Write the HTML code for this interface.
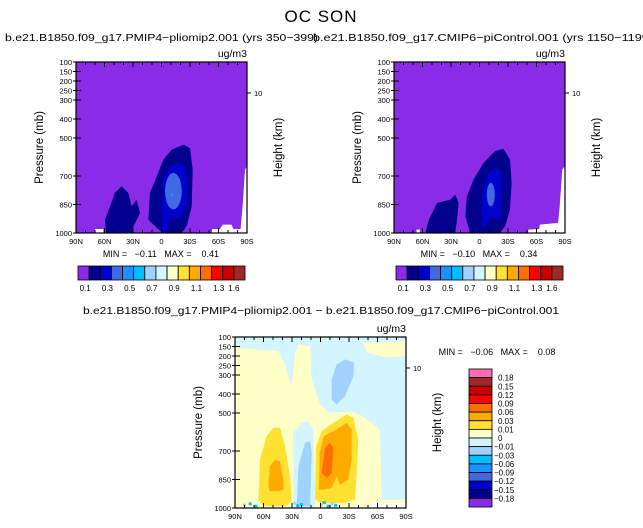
<!DOCTYPE html>
<html><head><meta charset="utf-8"><style>
html,body{margin:0;padding:0;background:#fff;}
svg{display:block;font-family:"Liberation Sans",sans-serif;}
.pre{white-space:pre;}
</style></head><body>
<svg id="chart" width="643" height="528" viewBox="0 0 643 528" xmlns="http://www.w3.org/2000/svg">
<text x="321" y="22" text-anchor="middle" font-size="17" letter-spacing="1">OC SON</text>
<text x="5" y="41" font-size="10.5" textLength="313" lengthAdjust="spacingAndGlyphs">b.e21.B1850.f09_g17.PMIP4−pliomip2.001 (yrs 350−399)</text>
<text x="313" y="41" font-size="10.5" textLength="340" lengthAdjust="spacingAndGlyphs">b.e21.B1850.f09_g17.CMIP6−piControl.001 (yrs 1150−1199)</text>
<text x="321" y="314" text-anchor="middle" font-size="10.5" textLength="476" lengthAdjust="spacingAndGlyphs">b.e21.B1850.f09_g17.PMIP4−pliomip2.001 − b.e21.B1850.f09_g17.CMIP6−piControl.001</text>
<g id="layer"></g>
</svg>
<script>
// ---- data ----
const latTicks=[90,60,30,0,-30,-60,-90];
const latTickLabels=["90N","60N","30N","0","30S","60S","90S"];
const presTicks=[100,150,200,250,300,400,500,700,850,1000];
const heightTickP=[263];
const heightTickLabels=["10"];
const absLevels=["0.1","0.3","0.5","0.7","0.9","1.1","1.3","1.6"];
const absColors=["#8a2be8","#00008c","#0000cd","#4169e1","#1e90ff","#00bfff","#a0d2ff","#d2f5ff","#ffffc8","#ffe132","#ffaa00","#ff6e00","#ff0000","#c80000","#a02828","#ff6eb4"];
const diffLabels=["0.18","0.15","0.12","0.09","0.06","0.03","0.01","0","−0.01","−0.03","−0.06","−0.09","−0.12","−0.15","−0.18"];
const diffColors=["#ff6eb4","#a02828","#c80000","#ff0000","#ff6e00","#ffaa00","#ffe132","#ffffc8","#d2f5ff","#a0d2ff","#00bfff","#1e90ff","#4169e1","#0000cd","#00008c","#8a2be8"];
const leftStats=["−0.11","0.41"];
const rightStats=["−0.10","0.34"];
const diffStats=["−0.06","0.08"];
// contour polygons [lat, pressure]
const tlNavyMain=[[-0.9,1000],[13.9,930],[12.1,789],[5.1,702],[-1.9,614],[-10.7,561],[-23,535],[-30,553],[-32.8,667],[-31.8,860],[-26.5,965],[-21.2,1000]];
const tlNavyLeft=[[58.4,1000],[59.5,930],[54.2,860],[49,789],[42,754],[34.9,789],[31.4,860],[26.1,825],[22.6,895],[29.6,965],[29.6,1000]];
const tlBlue=[[-1.2,1000],[-0.2,860],[-1.9,719],[-8.9,649],[-17.7,628],[-24.7,649],[-28.2,754],[-26.5,860],[-19.5,921],[-10.7,912],[-5.4,1000]];
const tlRoyal=[[-12.5,780,8.8,96]];
const tlDodger=[[-10.7,798,1.2,10]];
const tlWhite=[[-90,649],[-87.9,667],[-85.4,860],[-83.3,979],[-75.6,979],[-73.8,956],[-64.4,956],[-61.6,979],[-53.2,979],[-53.2,1000],[-90,1000]];
const tlWhite2=[[70,979],[61.2,979],[61.2,1000],[70,1000]];
const trNavyMain=[[9.8,1000],[15,912],[13.3,807],[6.3,719],[-4.2,631],[-16.4,569],[-25.1,557],[-32.1,613],[-33.8,736],[-32.1,877],[-26.9,965],[-21.6,1000]];
const trNavyLeft=[[56.9,1000],[53.4,930],[44.7,842],[37.7,833],[30.7,824],[25.5,798],[22,842],[23.7,930],[25.5,1000]];
const trBlue=[[-2.4,965],[-2.4,807],[-7.7,701],[-16.4,657],[-23.4,675],[-23.4,824],[-21.6,930],[-12.9,912],[-5.9,965]];
const trRoyal=[[-11.9,798,4.2,62]];
const trWhite=[[-90,648],[-87.2,666],[-84.4,859],[-82.7,947],[-63.5,956],[-62.8,979],[-51.3,982],[-51.3,1000],[-90,1000]];
const trWhite2=[[66.3,982],[62.8,982],[62.8,1000],[66.3,1000]];
const dLightBlue=[[90,100],[-90,100],[-90,121],[-45.1,130],[-48.6,183],[-69.7,209],[-90,200],[-90,956],[-64.4,956],[-62.6,587],[-52.1,543],[-34.6,490],[-10,499],[0.5,455],[9.3,323],[11,147],[23.3,139],[26.8,183],[30.3,358],[37.4,244],[44.4,174],[90,156]];
const dStrip=[[28.6,1000],[28.6,605],[19.8,552],[12.8,543],[7.5,587],[5.8,956],[5.8,1000]];
const dStripSky=[[25.1,991],[23.3,780],[16.3,657],[11,648],[9.3,710],[11,991]];
const dUpperSky=[[-11.8,429],[-11.8,323],[-17,244],[-25.8,218],[-35.3,235],[-34.6,306],[-25.8,411],[-17,455]];
const dLeftGold=[[65.4,956],[63.7,745],[56.7,622],[49.6,578],[42.6,578],[37.4,675],[32.1,833],[30.3,956],[35.6,991],[60.2,991]];
const dLeftOrange=[[54.9,886],[53.2,780],[47.9,745],[42.6,754],[39.1,851],[39.1,903],[44.4,912],[53.2,912]];
const dRightGold=[[5.8,956],[4.7,675],[-1.2,596],[-13.5,552],[-27.5,508],[-34.6,525],[-39.8,640],[-38.1,816],[-36.3,956],[-24,974],[-0.5,974]];
const dRightOrange=[[1.7,903],[0.8,710],[-3.4,622],[-17,587],[-27.5,552],[-32.8,587],[-32.8,745],[-29.3,851],[-20.5,877],[-17,833],[-11.8,895],[-3.4,903]];
const dDarkOrange=[[-1.2,816],[-4.7,684],[-10,657],[-13.5,684],[-11.8,816],[-6.5,842]];
const dWhite=[[-52,975],[-90,975],[-90,1000],[-52,1000]];
const dSpeckLat=[80,74,68,27,24,20,-1,-4,-8,-12,-16];
const dSpeckP=[985,978,990,975,988,982,985,972,990,978,986];

// ---- rendering ----
const NS="http://www.w3.org/2000/svg";
const layer=document.getElementById('layer');
function mk(tag,attrs,parent){const e=document.createElementNS(NS,tag);for(const k in attrs)e.setAttribute(k,attrs[k]);(parent||layer).appendChild(e);return e;}
function panel(x0,y0,w,h){return {x:lat=>x0+(90-lat)/180*w,y:p=>y0+(p-100)/900*h,x0,y0,w,h};}
function poly(P,pts,fill,name){
  const e=mk('polygon',{points:pts.map(q=>P.x(q[0]).toFixed(1)+','+P.y(q[1]).toFixed(1)).join(' '),fill:fill,'stroke-linejoin':'round'});
  
  
}
function ell(P,arr,fill,name){arr.forEach(a=>{
  const e=mk('ellipse',{cx:P.x(a[0]),cy:P.y(a[1]),rx:a[2]/180*P.w,ry:a[3]/900*P.h,fill:fill});
  
  
});}
function axes(P,key){
  const b=mk('rect',{x:P.x0,y:P.y0,width:P.w,height:P.h,fill:'none',stroke:'#000','stroke-width':1.2});
  
  
  for(let lat=90;lat>=-90;lat-=10){
    const maj=lat%30===0, L=maj?5:3;
    mk('line',{x1:P.x(lat),x2:P.x(lat),y1:P.y0+P.h,y2:P.y0+P.h-L,stroke:'#000','stroke-width':1});
    mk('line',{x1:P.x(lat),x2:P.x(lat),y1:P.y0,y2:P.y0+L,stroke:'#000','stroke-width':1});
  }
  latTicks.forEach((lat,i)=>{
    const t=mk('text',{x:P.x(lat),y:P.y0+P.h+11,'text-anchor':'middle','font-size':7.5});
    t.textContent=latTickLabels[i];
    
    
  });
  presTicks.forEach(p=>{
    mk('line',{x1:P.x0,x2:P.x0+5,y1:P.y(p),y2:P.y(p),stroke:'#000','stroke-width':1});
    mk('line',{x1:P.x0-3,x2:P.x0,y1:P.y(p),y2:P.y(p),stroke:'#000','stroke-width':1});
    const t=mk('text',{x:P.x0-4,y:P.y(p)+2.8,'text-anchor':'end','font-size':7.5});
    t.textContent=p;
    
    
  });
  heightTickP.forEach((p,i)=>{
    mk('line',{x1:P.x0+P.w,x2:P.x0+P.w+4,y1:P.y(p),y2:P.y(p),stroke:'#000','stroke-width':1});
    const t=mk('text',{x:P.x0+P.w+7,y:P.y(p)+2.8,'font-size':7.5});
    t.textContent=heightTickLabels[i];
    
    
  });
  const yt=mk('text',{x:0,y:0,'font-size':11.5,'text-anchor':'middle',transform:`translate(${P.x0-33},${P.y0+P.h/2}) rotate(-90)`});
  yt.textContent='Pressure (mb)';
  
  
  const ht=mk('text',{x:0,y:0,'font-size':11.5,'text-anchor':'middle',transform:`translate(${P.x0+P.w+35},${P.y0+P.h/2}) rotate(-90)`});
  ht.textContent='Height (km)';
  
  
  const u=mk('text',{x:P.x0+P.w,y:P.y0-5,'text-anchor':'end','font-size':10.5});
  u.textContent='ug/m3';
  
  
}
function stats(x,y,s,key){
  const t=mk('text',{x:x,y:y,'text-anchor':'middle','font-size':9,'class':'pre'});
  t.textContent='MIN =   '+s[0]+'   MAX =    '+s[1];
  
  
}
function hbar(x0,y0,w,h,key){
  const n=15, bw=w/n;
  for(let i=0;i<n;i++){
    const r=mk('rect',{x:x0+i*bw,y:y0,width:bw,height:h,fill:absColors[i],stroke:'#000','stroke-width':0.8});
    
    
  }
  absLevels.forEach((lab,i)=>{
    const bi=i<7?1+2*i:14;
    const t=mk('text',{x:x0+bi*bw-(i<7?4:0),y:y0+h+11,'text-anchor':'middle','font-size':8});
    t.textContent=lab;
    
    
  });
}
// top-left
const A=panel(76,62,171,171);
mk('rect',{x:A.x0,y:A.y0,width:A.w,height:A.h,fill:absColors[0]});
poly(A,tlNavyMain,absColors[1],'tl-navy-contour');
poly(A,tlNavyLeft,absColors[1],'tl-navy-left-contour');
poly(A,tlBlue,absColors[2],'tl-blue-contour');
ell(A,tlRoyal,absColors[3],'tl-royalblue-contour');
ell(A,tlDodger,absColors[4],'tl-dodgerblue-contour');
poly(A,tlWhite,'#fff','tl-missing-region');
poly(A,tlWhite2,'#fff','tl-missing-region');
axes(A,'left-panel');
stats(161,257,leftStats,'left-panel');
hbar(78,266,167,14,'left-panel');
// top-right
const B=panel(394,62,171,171);
mk('rect',{x:B.x0,y:B.y0,width:B.w,height:B.h,fill:absColors[0]});
poly(B,trNavyMain,absColors[1],'tr-navy-contour');
poly(B,trNavyLeft,absColors[1],'tr-navy-left-contour');
poly(B,trBlue,absColors[2],'tr-blue-contour');
ell(B,trRoyal,absColors[3],'tr-royalblue-contour');
poly(B,trWhite,'#fff','tr-missing-region');
poly(B,trWhite2,'#fff','tr-missing-region');
axes(B,'right-panel');
stats(479,257,rightStats,'right-panel');
hbar(396,266,167,14,'right-panel');
// diff
const D=panel(235,337,171,171);
mk('rect',{x:D.x0,y:D.y0,width:D.w,height:D.h,fill:'#ffffc8'});
poly(D,dLightBlue,'#d2f5ff','diff-lightblue-contour');
poly(D,dStrip,'#d2f5ff','diff-lightblue-strip');
poly(D,dStripSky,'#a0d2ff','diff-skyblue-strip');
poly(D,dUpperSky,'#a0d2ff','diff-skyblue-upper');
poly(D,dLeftGold,'#ffe132','diff-gold-left');
poly(D,dLeftOrange,'#ffaa00','diff-orange-left');
poly(D,dRightGold,'#ffe132','diff-gold-right');
poly(D,dRightOrange,'#ffaa00','diff-orange-right');
poly(D,dDarkOrange,'#ff6e00','diff-darkorange');
poly(D,dWhite,'#fff','diff-missing-region');
dSpeckLat.forEach((lat,i)=>{
  const c=mk('rect',{x:D.x(lat)-1.5,y:D.y(dSpeckP[i])-1.5,width:3,height:3,fill:i%3===0?'#a0d2ff':'#00bfff'});
  
  
});
axes(D,'diff-panel');
stats(497,355,diffStats,'diff-panel');
// vertical colorbar
const vx=469, vy=369, vw=23, vh=138, n=16, bh=vh/n;
for(let i=0;i<n;i++){
  const r=mk('rect',{x:vx,y:vy+i*bh,width:vw,height:bh,fill:diffColors[i],stroke:'#000','stroke-width':0.8});
  
  
}
diffLabels.forEach((lab,i)=>{
  const t=mk('text',{x:vx+vw+(lab[0]==='−'?2:6),y:vy+(i+1)*bh+3,'font-size':8});
  t.textContent=lab;
  
  
});
</script>
</body></html>
